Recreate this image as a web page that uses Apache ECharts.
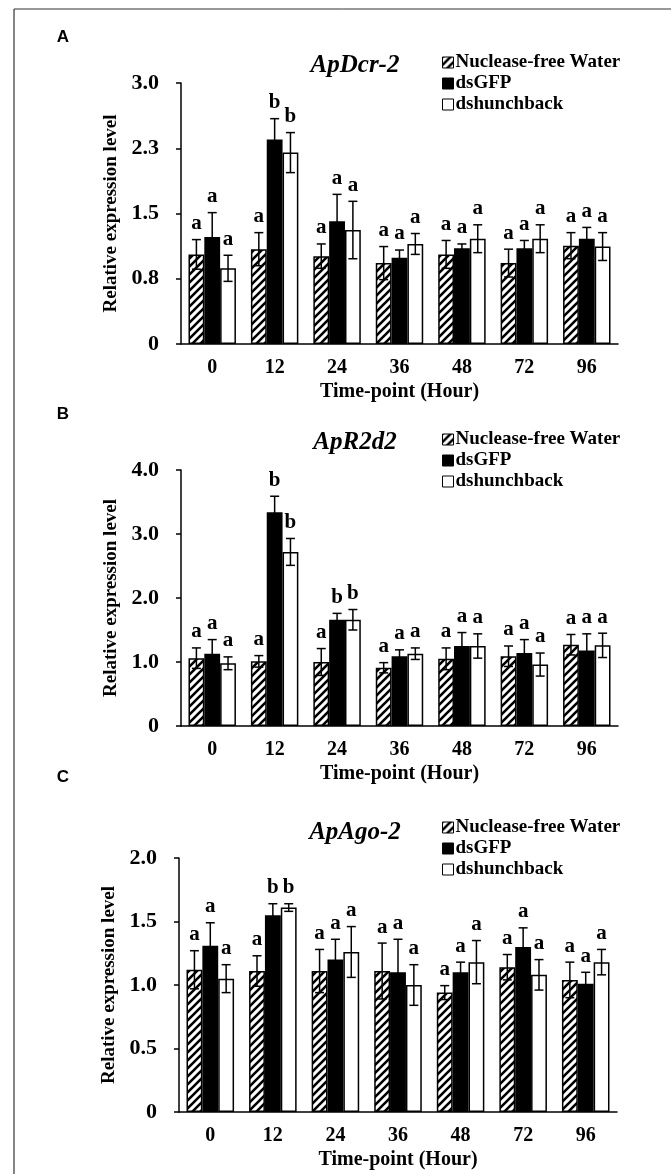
<!DOCTYPE html>
<html>
<head>
<meta charset="utf-8">
<script src="https://cdn.jsdelivr.net/npm/echarts@6/dist/echarts.min.js"></script>
<style>
html,body{margin:0;padding:0;background:#fff;}
#chart{width:671px;height:1174px;}
</style>
</head>
<body>
<div id="chart"></div>
<script>
// ---------- data ----------
const categories = ['0', '12', '24', '36', '48', '72', '96'];
const seriesNames = ['Nuclease-free Water', 'dsGFP', 'dshunchback'];
const panelLetters = ['A', 'B', 'C'];
const geneTitles = ['ApDcr-2', 'ApR2d2', 'ApAgo-2'];

// Panel A: ApDcr-2
const dcrWater = [1.03, 1.09, 1.01, 0.93, 1.03, 0.93, 1.13];
const dcrWaterErr = [0.17, 0.19, 0.14, 0.19, 0.16, 0.16, 0.15];
const dcrGFP = [1.23, 2.35, 1.41, 0.99, 1.10, 1.10, 1.21];
const dcrGFPErr = [0.28, 0.24, 0.31, 0.09, 0.05, 0.09, 0.13];
const dcrHb = [0.87, 2.20, 1.31, 1.15, 1.21, 1.21, 1.12];
const dcrHbErr = [0.15, 0.23, 0.33, 0.12, 0.16, 0.16, 0.16];
const dcrWaterSig = ['a', 'a', 'a', 'a', 'a', 'a', 'a'];
const dcrGFPSig = ['a', 'b', 'a', 'a', 'a', 'a', 'a'];
const dcrHbSig = ['a', 'b', 'a', 'a', 'a', 'a', 'a'];
const dcrTicks = [0, 0.75, 3];   // min, interval, max

// Panel B: ApR2d2
const r2Water = [1.06, 1.01, 1.00, 0.91, 1.05, 1.09, 1.27];
const r2WaterErr = [0.16, 0.09, 0.21, 0.08, 0.17, 0.16, 0.16];
const r2GFP = [1.13, 3.34, 1.66, 1.09, 1.25, 1.14, 1.18];
const r2GFPErr = [0.22, 0.25, 0.10, 0.10, 0.21, 0.21, 0.26];
const r2Hb = [0.98, 2.72, 1.66, 1.13, 1.25, 0.96, 1.26];
const r2HbErr = [0.10, 0.21, 0.16, 0.09, 0.19, 0.18, 0.19];
const r2WaterSig = ['a', 'a', 'a', 'a', 'a', 'a', 'a'];
const r2GFPSig = ['a', 'b', 'b', 'a', 'a', 'a', 'a'];
const r2HbSig = ['a', 'b', 'b', 'a', 'a', 'a', 'a'];
const r2Ticks = [0, 1, 4];

// Panel C: ApAgo-2
const agoWater = [1.12, 1.11, 1.11, 1.11, 0.94, 1.14, 1.04];
const agoWaterErr = [0.15, 0.12, 0.17, 0.22, 0.055, 0.10, 0.14];
const agoGFP = [1.31, 1.55, 1.20, 1.10, 1.10, 1.30, 1.01];
const agoGFPErr = [0.18, 0.09, 0.16, 0.26, 0.08, 0.15, 0.09];
const agoHb = [1.05, 1.61, 1.26, 1.00, 1.18, 1.08, 1.18];
const agoHbErr = [0.11, 0.03, 0.20, 0.16, 0.17, 0.12, 0.10];
const agoWaterSig = ['a', 'a', 'a', 'a', 'a', 'a', 'a'];
const agoGFPSig = ['a', 'b', 'a', 'a', 'a', 'a', 'a'];
const agoHbSig = ['a', 'b', 'a', 'a', 'a', 'a', 'a'];
const agoTicks = [0, 0.5, 2];

// ---------- build ----------
const FONT = "'Liberation Serif','Times New Roman',serif";
const GAP = 0.24;

function hatchCanvas() {
  const c = document.createElement('canvas');
  const s = 8;
  c.width = s; c.height = s;
  const ctx = c.getContext('2d');
  ctx.fillStyle = '#fff';
  ctx.fillRect(0, 0, s, s);
  ctx.strokeStyle = '#000';
  ctx.lineWidth = 2.6;
  ctx.beginPath();
  ctx.moveTo(-2, s + 2); ctx.lineTo(s + 2, -2);
  ctx.moveTo(-2 - s, s + 2); ctx.lineTo(2, -2);
  ctx.moveTo(s - 2, s + 2); ctx.lineTo(s + s + 2, -2);
  ctx.stroke();
  return c;
}
const hatch = { image: hatchCanvas(), repeat: 'repeat' };
const fills = [hatch, '#000', '#fff'];

const panels = [
  { vals: [dcrWater, dcrGFP, dcrHb], errs: [dcrWaterErr, dcrGFPErr, dcrHbErr], sig: [dcrWaterSig, dcrGFPSig, dcrHbSig], ticks: dcrTicks,
    grid: { left: 181, top: 83, width: 437, height: 261 }, legendTop: 48, titleY: 66, letterY: 37 },
  { vals: [r2Water, r2GFP, r2Hb], errs: [r2WaterErr, r2GFPErr, r2HbErr], sig: [r2WaterSig, r2GFPSig, r2HbSig], ticks: r2Ticks,
    grid: { left: 181, top: 470, width: 437, height: 256 }, legendTop: 425, titleY: 443, letterY: 414 },
  { vals: [agoWater, agoGFP, agoHb], errs: [agoWaterErr, agoGFPErr, agoHbErr], sig: [agoWaterSig, agoGFPSig, agoHbSig], ticks: agoTicks,
    grid: { left: 179, top: 858, width: 438, height: 254 }, legendTop: 813, titleY: 833, letterY: 777 }
];

const grids = [], xAxes = [], yAxes = [], series = [], legends = [], graphics = [];

panels.forEach((p, pi) => {
  grids.push(Object.assign({ containLabel: false }, p.grid));
  xAxes.push({
    type: 'category', gridIndex: pi, data: categories,
    axisLine: { lineStyle: { color: '#000', width: 1.5 } },
    axisTick: { inside: true, length: 6, lineStyle: { color: '#000', width: 1.5 } },
    axisLabel: { color: '#000', fontFamily: FONT, fontWeight: 'bold', fontSize: 20, margin: 14 },
    name: 'Time-point (Hour)', nameLocation: 'middle', nameGap: 38,
    nameTextStyle: { color: '#000', fontFamily: FONT, fontWeight: 'bold', fontSize: 20 }
  });
  yAxes.push({
    type: 'value', gridIndex: pi, min: p.ticks[0], interval: p.ticks[1], max: p.ticks[2],
    splitLine: { show: false },
    axisLine: { show: true, lineStyle: { color: '#000', width: 1.5 } },
    axisTick: { show: true, length: 5, lineStyle: { color: '#000', width: 1.5 } },
    axisLabel: { color: '#000', fontFamily: FONT, fontWeight: 'bold', fontSize: 22, margin: 22,
      formatter: v => v === 0 ? '0' : v.toFixed(1) },
    name: 'Relative expression level', nameLocation: 'middle', nameGap: 59,
    nameTextStyle: { color: '#000', fontFamily: FONT, fontWeight: 'bold', fontSize: 19 }
  });
  for (let s = 0; s < 3; s++) {
    series.push({
      type: 'bar', name: seriesNames[s], xAxisIndex: pi, yAxisIndex: pi,
      data: p.vals[s], barGap: '0%', barCategoryGap: (GAP * 100) + '%',
      itemStyle: { color: fills[s], borderColor: '#000', borderWidth: 1.5 },
      emphasis: { disabled: true }, animation: false
    });
  }
  for (let s = 0; s < 3; s++) {
    const letters = p.sig[s];
    const errs = p.errs[s];
    series.push({
      type: 'custom', xAxisIndex: pi, yAxisIndex: pi, z: 10, animation: false,
      data: p.vals[s].map((v, i) => [i, v, errs[i]]),
      renderItem: (params, api) => {
        const i = api.value(0), v = api.value(1), e = api.value(2);
        const band = api.size([1, 0])[0];
        const bw = band * (1 - GAP) / 3;
        const cx = api.coord([i, v])[0] + (s - 1) * bw;
        const yTop = api.coord([i, v + e])[1];
        const yBot = api.coord([i, v - e])[1];
        const cap = 4.5;
        const ls = { stroke: '#000', lineWidth: 1.5 };
        return {
          type: 'group', children: [
            { type: 'line', shape: { x1: cx, y1: yTop, x2: cx, y2: yBot }, style: ls },
            { type: 'line', shape: { x1: cx - cap, y1: yTop, x2: cx + cap, y2: yTop }, style: ls },
            { type: 'line', shape: { x1: cx - cap, y1: yBot, x2: cx + cap, y2: yBot }, style: ls },
            { type: 'text', x: cx, y: yTop - 16,
              style: { text: letters[params.dataIndex], fill: '#000', font: 'bold 21px ' + FONT,
                align: 'center', verticalAlign: 'middle' } }
          ]
        };
      }
    });
  }
  legends.push({
    data: seriesNames, orient: 'vertical', left: 437, top: p.legendTop,
    icon: 'rect', itemWidth: 11, itemHeight: 11, itemGap: 2,
    selectedMode: false,
    itemStyle: { borderColor: '#000', borderWidth: 1 },
    textStyle: { color: '#000', fontFamily: FONT, fontWeight: 'bold', fontSize: 19, lineHeight: 19, padding: [0, 0, 0, -3] }
  });
  graphics.push({
    type: 'text', x: 63, y: p.letterY,
    style: { text: panelLetters[pi], fill: '#000', font: 'bold 17px Arial, "Liberation Sans", sans-serif', align: 'center', verticalAlign: 'middle' }
  });
  graphics.push({
    type: 'text', x: 355, y: p.titleY,
    style: { text: geneTitles[pi], fill: '#000', font: 'italic bold 25px ' + FONT, align: 'center', verticalAlign: 'middle' }
  });
});

// frame lines
graphics.push({ type: 'line', shape: { x1: 14, y1: 9, x2: 671, y2: 9 }, style: { stroke: '#333', lineWidth: 1 } });
graphics.push({ type: 'line', shape: { x1: 14, y1: 9, x2: 14, y2: 1174 }, style: { stroke: '#333', lineWidth: 1.2 } });

const chart = echarts.init(document.getElementById('chart'), null, { renderer: 'canvas' });
chart.setOption({
  backgroundColor: '#fff',
  animation: false,
  textStyle: { fontFamily: FONT },
  grid: grids, xAxis: xAxes, yAxis: yAxes, series: series, legend: legends,
  graphic: graphics
});
</script>
</body>
</html>
